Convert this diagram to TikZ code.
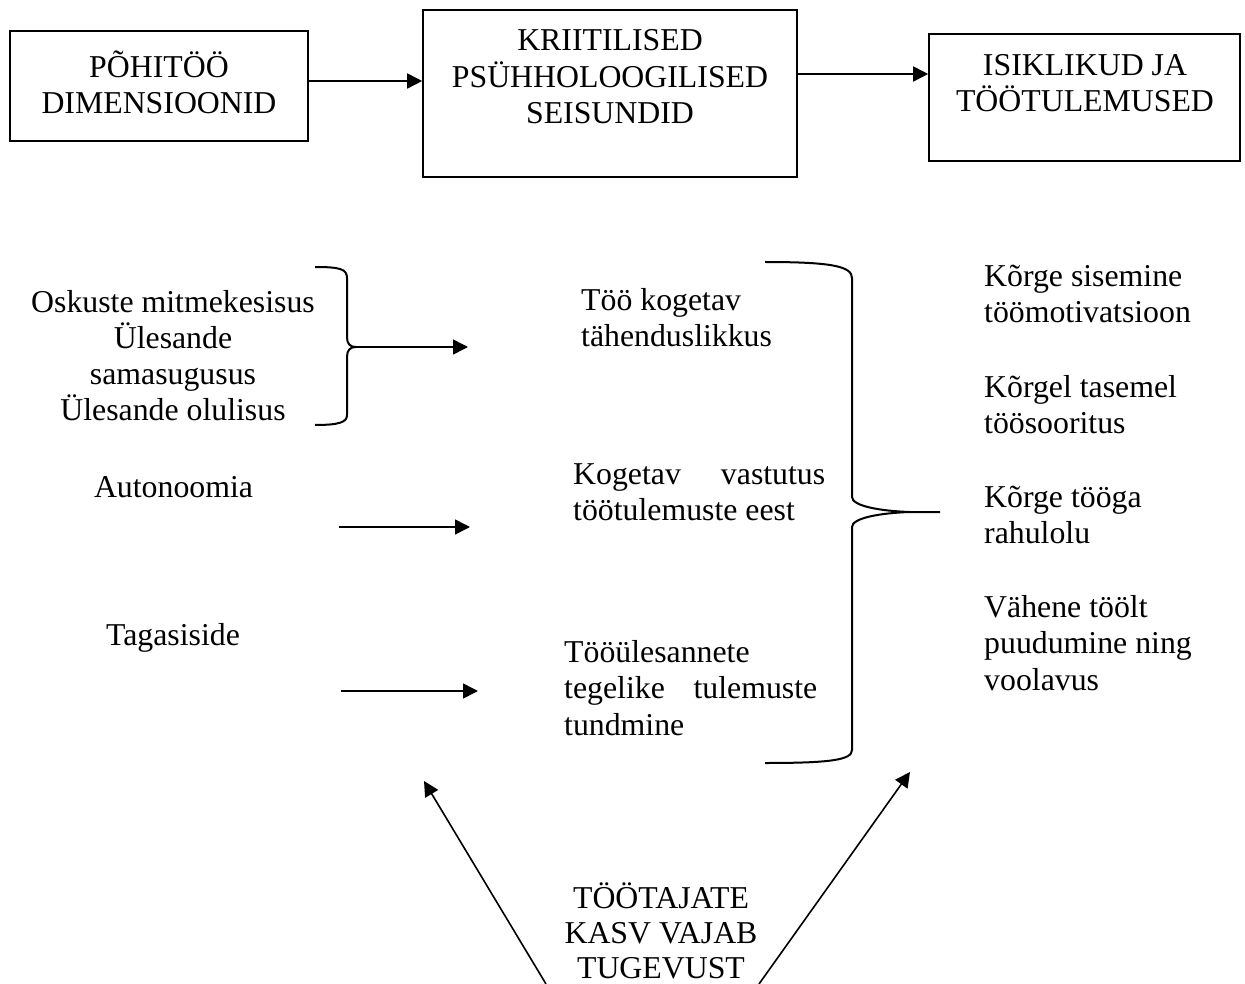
\documentclass[tikz,border=0pt]{standalone}
\usepackage{fontspec}
\setmainfont{Liberation Serif}
\usetikzlibrary{arrows.meta}
\hyphenpenalty=10000
\exhyphenpenalty=10000
\tikzset{
  txt/.style={inner sep=0pt, anchor=base, font=\fontsize{31.8pt}{36.6pt}\selectfont},
  kast/.style={draw, line width=1.6pt, inner sep=0pt},
  nool/.style={line width=1.6pt, -{Triangle[length=15pt,width=15pt]}},
  klamber/.style={line width=2pt, line join=round},
}

\begin{document}
\begin{tikzpicture}[x=1pt,y=-1pt]
\useasboundingbox (0,0) rectangle (1245,984);

% ylemised kastid (mitmerealise teksti base = viimane rida)
\node[kast, minimum width=298pt, minimum height=110pt] (kast1) at (159,86) {};
\node[kast, minimum width=374pt, minimum height=167pt] (kast2) at (610,93.5) {};
\node[kast, minimum width=311pt, minimum height=127pt] (kast3) at (1084.5,97.5) {};
\node[txt, align=center, font=\fontsize{31.8pt}{36pt}\selectfont] (pealkiri1) at (159,114) {PÕHITÖÖ\\DIMENSIOONID};
\node[txt, align=center] (pealkiri2) at (610,124) {KRIITILISED\\PSÜHHOLOOGILISED\\SEISUNDID};
\node[txt, align=center] (pealkiri3) at (1085,112) {ISIKLIKUD JA\\TÖÖTULEMUSED};
\draw[nool] (kast1.east |- 0,81) -- (kast2.west |- 0,81);
\draw[nool] (kast2.east |- 0,74) -- (kast3.west |- 0,74);

% vasak veerg
\node[txt, align=center, font=\fontsize{31.8pt}{36pt}\selectfont] (oskused) at (173,420) {Oskuste mitmekesisus\\Ülesande\\samasugusus\\Ülesande olulisus};
\node[txt] (autonoomia) at (173.5,497) {Autonoomia};
\node[txt] (tagasiside) at (173,645) {Tagasiside};

% keskmine veerg
\node[txt, anchor=base west, align=left] (tahendus) at (581,346.6) {Töö kogetav\\tähenduslikkus};
\node[txt, anchor=base west, text width=252pt, align=justify] (vastutus) at (573,484) {Kogetav vastutus töötulemuste eest};
\node[txt, anchor=base west, text width=253pt, align=justify] (tundmine) at (564,662) {Tööülesannete tegelike tulemuste tundmine};

% parem veerg
\node[txt, anchor=base west, align=left] (motivatsioon) at (984,322.6) {Kõrge sisemine\\töömotivatsioon};
\node[txt, anchor=base west, align=left] (sooritus) at (984,433.6) {Kõrgel tasemel\\töösooritus};
\node[txt, anchor=base west, align=left] (rahulolu) at (984,543.6) {Kõrge tööga\\rahulolu};
\node[txt, anchor=base west, align=left] (voolavus) at (984,690.2) {Vähene töölt\\puudumine ning\\voolavus};

% alumine tekst
\node[txt, align=center, font=\fontsize{31.8pt}{35pt}\selectfont] (kasv) at (661,978) {TÖÖTAJATE\\KASV VAJAB\\TUGEVUST};

% looksulud
\draw[klamber] (315,267) .. controls (340,267) and (347,269) .. (347,278) -- (347,337)
  .. controls (347,344) and (350,347) .. (356,347) .. controls (350,347) and (347,350) .. (347,357)
  -- (347,415) .. controls (347,422) and (340,425) .. (315,425);
\draw[klamber] (765,262) .. controls (830,262) and (852,266) .. (852,278) -- (852,497)
  .. controls (852,506) and (880,511) .. (910,512) -- (940,512)
  (910,512) .. controls (880,513) and (852,518) .. (852,527) -- (852,750)
  .. controls (852,760) and (830,763) .. (765,763);

% nooled
\coordinate (tipp1) at (353,347);
\coordinate (siht1) at (468,347);
\coordinate (algus2) at (339,527);
\coordinate (siht2) at (470,527);
\coordinate (algus3) at (341,691);
\coordinate (siht3) at (478,691);
\coordinate (alumine1) at (546,984);
\coordinate (ylemine1) at (424,781);
\coordinate (alumine2) at (759,984);
\coordinate (ylemine2) at (910,772);
\draw[nool] (tipp1) -- (siht1);
\draw[nool] (algus2) -- (siht2);
\draw[nool] (algus3) -- (siht3);
\draw[nool] (alumine1) -- (ylemine1);
\draw[nool] (alumine2) -- (ylemine2);
\end{tikzpicture}
\end{document}
